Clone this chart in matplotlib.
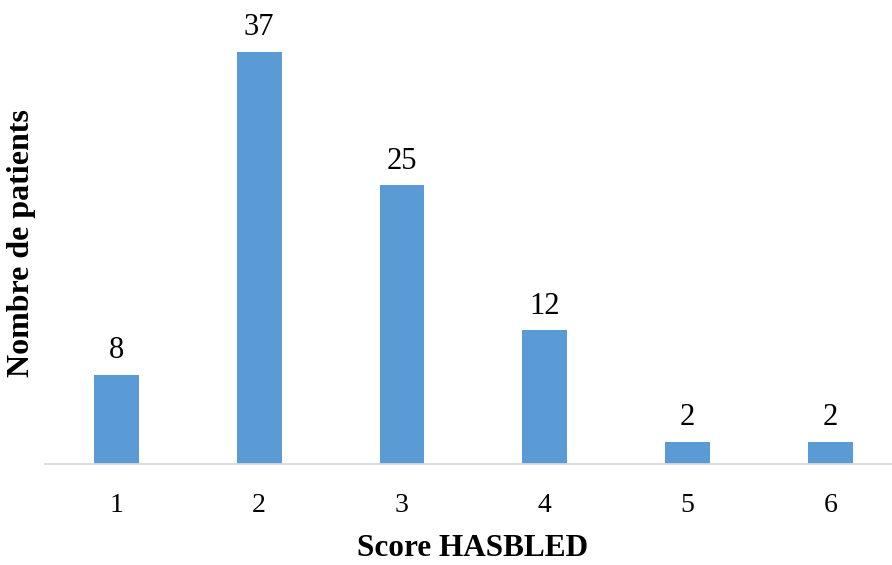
import matplotlib
matplotlib.use('Agg')
import matplotlib.pyplot as plt

# Données
scores = ['1', '2', '3', '4', '5', '6']
patients = [8, 37, 25, 12, 2, 2]

plt.rcParams['font.family'] = ['Liberation Serif', 'DejaVu Serif']

fig = plt.figure(figsize=(8.92, 5.65), dpi=100)
# axe horizontal qui deborde a droite comme dans l'original
ax = fig.add_axes([45 / 892, 101 / 565, 847 / 892, 464 / 565])

x = range(1, len(scores) + 1)
ax.bar(x, patients, width=0.313, color='#5B9BD5', zorder=2)

for xi, v in zip(x, patients):
    ax.annotate(str(v), (xi, v), xytext=(0, 7), textcoords='offset points',
                ha='center', va='bottom', fontsize=22)

ax.set_xlim(0.5, 6.432)
ax.set_ylim(0, 41.65)
ax.set_xticks(list(x))
ax.set_xticklabels(scores, fontsize=20)
ax.set_yticks([])
ax.tick_params(axis='x', length=0, pad=21)

for side in ['top', 'right', 'left']:
    ax.spines[side].set_visible(False)
ax.spines['bottom'].set_color('#D9D9D9')
ax.spines['bottom'].set_linewidth(1.3)

fig.text(473 / 892, 1 - 549 / 565, 'Score HASBLED', ha='center', va='center',
         fontsize=22.5, fontweight='bold')
fig.text(22 / 892, 1 - 243 / 565, 'Nombre de patients', ha='center', va='center',
         rotation=90, fontsize=23, fontweight='bold')

plt.savefig('out.png', dpi=100)
